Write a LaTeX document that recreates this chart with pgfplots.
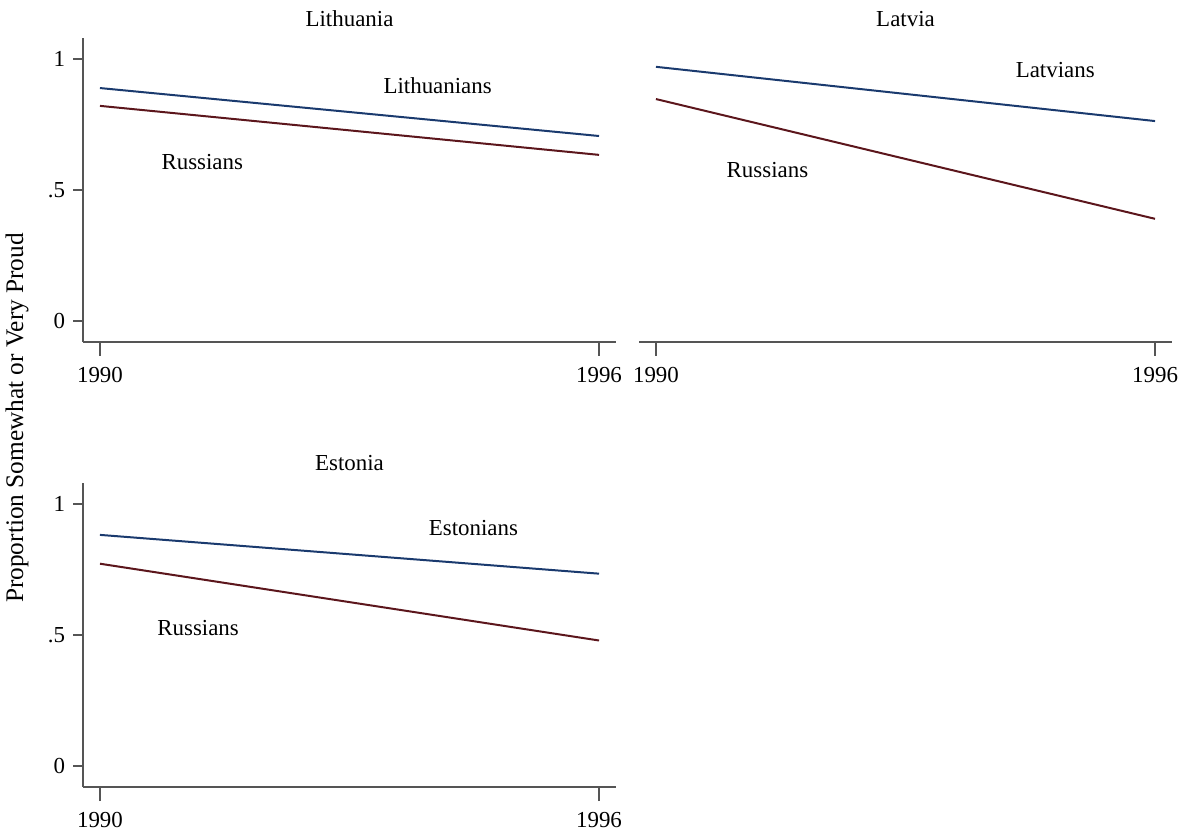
\documentclass[border=0pt]{standalone}
\usepackage{fontspec}
\setmainfont{Liberation Serif}
\usepackage{pgfplots}
\pgfplotsset{compat=1.18}

\definecolor{natblue}{RGB}{26,58,110}
\definecolor{rusred}{RGB}{92,22,28}
\definecolor{axgray}{RGB}{85,85,85}

\newcommand{\lbl}{\fontsize{11.5}{13}\selectfont}

\pgfplotsset{
  panel/.style={
    scale only axis, width=266.5bp, height=152bp,
    xmin=1989.796, xmax=1996.204, ymin=-0.08, ymax=1.08,
    axis x line=bottom, axis y line=left,
    axis line style={-, axgray, line width=0.7bp},
    tick align=outside,
    xtick={1990,1996}, xticklabels={1990,1996},
    ytick={0,0.5,1}, yticklabels={0,.5,1},
    major tick length=5bp,
    xtick style={axgray, line width=0.7bp, /pgfplots/major tick length=7bp},
    ytick style={axgray, line width=0.7bp},
    tick label style={font=\lbl, black},
    xticklabel style={yshift=-4bp},
    yticklabel style={xshift=-0.5bp},
    clip=false,
  },
  natline/.style={natblue, line width=1bp, mark=none},
  rusline/.style={rusred, line width=1bp, mark=none},
}

\begin{document}
\begin{tikzpicture}
\path[use as bounding box] (0,0) rectangle (590bp,418bp);

% Lithuania
\begin{axis}[panel, at={(41.5bp,247bp)}, anchor=south west]
  \addplot[natline] coordinates {(1990,0.889) (1996,0.706)};
  \addplot[rusline] coordinates {(1990,0.821) (1996,0.634)};
  \node[font=\lbl] at (axis cs:1994.06,0.90) {Lithuanians};
  \node[font=\lbl] at (axis cs:1991.23,0.607) {Russians};
  \node[font=\lbl, anchor=base, yshift=5.5bp] at (rel axis cs:0.5,1) {Lithuania};
\end{axis}

% Latvia
\begin{axis}[panel, axis y line=none, at={(319.5bp,247bp)}, anchor=south west]
  \addplot[natline] coordinates {(1990,0.970) (1996,0.763)};
  \addplot[rusline] coordinates {(1990,0.847) (1996,0.390)};
  \node[font=\lbl] at (axis cs:1994.8,0.958) {Latvians};
  \node[font=\lbl] at (axis cs:1991.34,0.576) {Russians};
  \node[font=\lbl, anchor=base, yshift=5.5bp] at (rel axis cs:0.5,1) {Latvia};
\end{axis}

% Estonia
\begin{axis}[panel, at={(41.5bp,24.5bp)}, anchor=south west]
  \addplot[natline] coordinates {(1990,0.882) (1996,0.734)};
  \addplot[rusline] coordinates {(1990,0.772) (1996,0.479)};
  \node[font=\lbl] at (axis cs:1994.49,0.909) {Estonians};
  \node[font=\lbl] at (axis cs:1991.18,0.528) {Russians};
  \node[font=\lbl, anchor=base, yshift=6bp] at (rel axis cs:0.5,1) {Estonia};
\end{axis}

\node[rotate=90, font=\fontsize{12.7}{14}\selectfont] at (8.5bp,209bp) {Proportion Somewhat or Very Proud};
\end{tikzpicture}
\end{document}
